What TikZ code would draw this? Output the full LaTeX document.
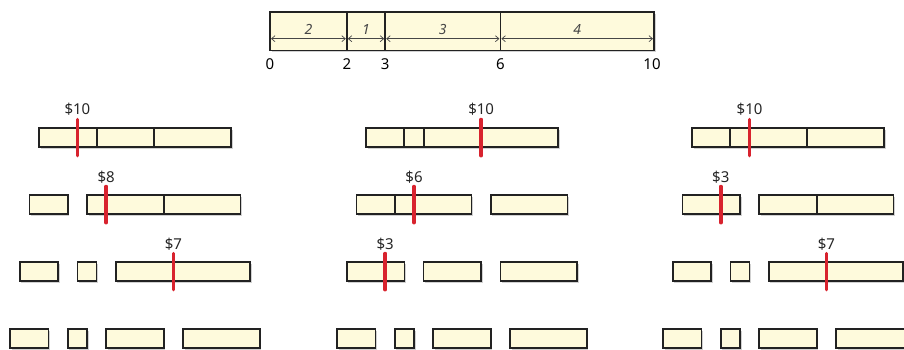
\documentclass[tikz,border=0pt]{standalone}
\usepackage{fontspec}
\setmainfont{Noto Sans}
\usetikzlibrary{arrows.meta,shadows}
\definecolor{barfill}{RGB}{254,250,220}
\definecolor{barline}{RGB}{34,34,34}
\definecolor{cutred}{RGB}{216,35,46}
\definecolor{dimgray}{RGB}{70,70,70}
\tikzset{
  piece/.style={draw=barline, fill=barfill, line width=1.6pt, inner sep=0pt, outer sep=0pt,
    minimum height=19.2pt,
    drop shadow={shadow xshift=1.5pt, shadow yshift=-1.5pt, opacity=0.3, fill=black!60}},
  toppiece/.style={piece, minimum height=38.4pt},
  divline/.style={draw=barline, line width=2pt},
  cutline/.style={draw=cutred, line width=3.5pt, line cap=round},
  price/.style={font=\fontsize{15}{18}\selectfont, text=black!85, inner sep=0pt},
  numlab/.style={font=\fontsize{15}{18}\selectfont, text=black, inner sep=0pt},
  seglab/.style={font=\fontsize{14}{17}\selectfont\itshape, text=dimgray, inner sep=0pt},
  dimarrow/.style={draw=dimgray, line width=0.7pt, {Straight Barb[length=3.5pt,width=6pt]}-{Straight Barb[length=3.5pt,width=6pt]}}
}
% piece: name, x0, gaps before, start, end, ytop
\newcommand\rp[6]{\node[piece, minimum width={(#5-#4)*19.2pt}, anchor=north west] (#1) at ({#2+(#4+#3)*19.2},#6) {};}
% divider: name, offset units
\newcommand\dv[2]{\draw[divline] ([xshift=#2*19.2pt]#1.north west) -- ([xshift=#2*19.2pt]#1.south west);}
% red cut: name, offset, price, label name
\newcommand\ct[4]{\draw[cutline] ([xshift=#2*19.2pt,yshift=8.5pt]#1.north west) coordinate (#4t) -- ([xshift=#2*19.2pt,yshift=-8.5pt]#1.south west); \node[price, anchor=base] (#4) at ([yshift=4.5pt]#4t) {\$#3};}
% top segment: name, start, end
\newcommand\tp[3]{\node[toppiece, minimum width={(#3-#2)*38.4pt}, anchor=north west] (#1) at ({270+#2*38.4},12.3) {};}
\newcommand\tarr[3]{\draw[dimarrow] ([xshift=1pt,yshift=12pt]#1.south west) -- ([xshift=-1pt,yshift=12pt]#1.south east); \node[seglab, anchor=base] (#2) at ([yshift=15.7pt]#1.south) {#3};}
\begin{document}
\begin{tikzpicture}[x=1pt,y=-1pt]
\useasboundingbox (0,0) rectangle (904,350);
% top bar
\tp{T1}{0}{2}\tp{T2}{2}{3}\tp{T3}{3}{6}\tp{T4}{6}{10}
\tarr{T1}{TL1}{2}\tarr{T2}{TL2}{1}\tarr{T3}{TL3}{3}\tarr{T4}{TL4}{4}
\node[numlab, anchor=base] (N0) at ([yshift=-18.6pt]T1.south west) {0};
\node[numlab, anchor=base] (N2) at ([yshift=-18.6pt]T2.south west) {2};
\node[numlab, anchor=base] (N3) at ([yshift=-18.6pt]T3.south west) {3};
\node[numlab, anchor=base] (N6) at ([yshift=-18.6pt]T4.south west) {6};
\node[numlab, anchor=base] (N10) at ([xshift=-2pt,yshift=-18.6pt]T4.south east) {10};
% left group
\rp{La1}{39}{0}{0}{10}{128} \dv{La1}{3}\dv{La1}{6}
\rp{Lb1}{29.4}{0}{0}{2}{195} \rp{Lb2}{29.4}{1}{2}{10}{195} \dv{Lb2}{4}
\rp{Lc1}{19.8}{0}{0}{2}{262} \rp{Lc2}{19.8}{1}{2}{3}{262} \rp{Lc3}{19.8}{2}{3}{10}{262}
\rp{Ld1}{10.2}{0}{0}{2}{329} \rp{Ld2}{10.2}{1}{2}{3}{329} \rp{Ld3}{10.2}{2}{3}{6}{329} \rp{Ld4}{10.2}{3}{6}{10}{329}
\ct{La1}{2}{10}{Lp1} \ct{Lb2}{1}{8}{Lp2} \ct{Lc3}{3}{7}{Lp3}
% middle group
\rp{Ma1}{366}{0}{0}{10}{128} \dv{Ma1}{2}\dv{Ma1}{3}
\rp{Mb1}{356.4}{0}{0}{6}{195} \dv{Mb1}{2} \rp{Mb2}{356.4}{1}{6}{10}{195}
\rp{Mc1}{346.8}{0}{0}{3}{262} \rp{Mc2}{346.8}{1}{3}{6}{262} \rp{Mc3}{346.8}{2}{6}{10}{262}
\rp{Md1}{337.2}{0}{0}{2}{329} \rp{Md2}{337.2}{1}{2}{3}{329} \rp{Md3}{337.2}{2}{3}{6}{329} \rp{Md4}{337.2}{3}{6}{10}{329}
\ct{Ma1}{6}{10}{Mp1} \ct{Mb1}{3}{6}{Mp2} \ct{Mc1}{2}{3}{Mp3}
% right group
\rp{Ra1}{692}{0}{0}{10}{128} \dv{Ra1}{2}\dv{Ra1}{6}
\rp{Rb1}{682.4}{0}{0}{3}{195} \rp{Rb2}{682.4}{1}{3}{10}{195} \dv{Rb2}{3}
\rp{Rc1}{672.8}{0}{0}{2}{262} \rp{Rc2}{672.8}{1}{2}{3}{262} \rp{Rc3}{672.8}{2}{3}{10}{262}
\rp{Rd1}{663.2}{0}{0}{2}{329} \rp{Rd2}{663.2}{1}{2}{3}{329} \rp{Rd3}{663.2}{2}{3}{6}{329} \rp{Rd4}{663.2}{3}{6}{10}{329}
\ct{Ra1}{3}{10}{Rp1} \ct{Rb1}{2}{3}{Rp2} \ct{Rc3}{3}{7}{Rp3}
\end{tikzpicture}
\end{document}
